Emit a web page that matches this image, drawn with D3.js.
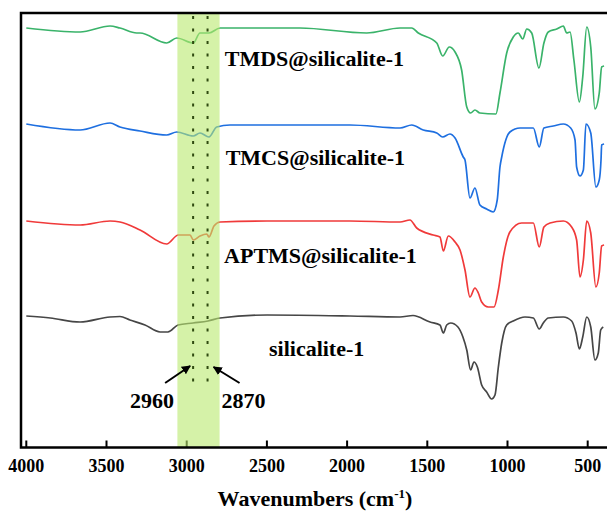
<!DOCTYPE html>
<html><head><meta charset="utf-8">
<script src="https://cdn.jsdelivr.net/npm/d3@7"></script>
<style>body{margin:0;background:#fff}svg{display:block}</style>
</head><body>
<svg id="c" width="607" height="511"></svg>
<script>
// Wavenumber (cm-1), transmittance (a.u., curves offset)
const silicalite = [[4000,130],[3850,128],[3665,124],[3478,129],[3416,129.5],[3354,126],[3260,121],[3166,114],[3117,114],[3054,121],[2960,123],[2867,125],[2792,128],[2499,131],[1982,130],[1670,129],[1589,130.5],[1483,124],[1421,121],[1400,113],[1379,121],[1354,123],[1309,119],[1278,109],[1254,96],[1230,76],[1209,84],[1188,79],[1161,61],[1130,54],[1099,47],[1078,51],[1057,79],[1036,103],[1005,121],[964,125],[891,129],[839,128],[802,117],[777,123],[746,128],[652,129],[600,125],[573,113],[552,97],[531,109],[506,129],[481,119],[455,86],[434,93],[419,116],[403,119]];
const aptms = [[4000,225],[3665,221],[3478,225],[3416,224],[3291,216],[3125,202],[3052,211],[2979,211],[2959,206],[2917,210],[2875,212],[2861,209],[2830,220],[2792,224],[2499,225],[1982,225],[1670,224],[1608,226],[1566,218],[1463,211],[1421,209],[1400,195],[1369,210],[1327,204],[1296,196],[1265,176],[1234,149],[1203,158],[1182,153],[1161,144],[1120,139],[1084,139],[1057,156],[1026,189],[985,214],[912,223],[839,223],[802,199],[773,219],[735,223],[652,225],[600,219],[569,206],[548,169],[527,186],[506,225],[481,213],[449,159],[428,173],[413,200],[398,201]];
const tmcs = [[4000,322],[3665,316],[3478,323],[3416,319],[3291,315],[3125,311],[3062,314],[2959,310],[2917,313],[2861,309],[2813,319],[2730,321],[2294,321],[1982,321],[1670,318],[1597,321],[1525,316],[1441,313],[1404,309],[1359,312],[1327,308],[1276,289],[1265,286],[1234,248],[1203,258],[1172,241],[1130,237],[1089,234],[1064,246],[1047,279],[1036,289],[985,314],[922,318],[839,318],[802,299],[773,318],[715,320],[652,322],[606,318],[579,306],[569,279],[548,270],[527,276],[511,322],[481,313],[449,259],[428,266],[417,286],[413,301],[398,302]];
const tmds = [[4000,418],[3665,414],[3478,420],[3416,418],[3312,413],[3291,413],[3125,403],[3062,408],[2959,403],[2917,413],[2861,413],[2792,418],[2294,418],[1878,413],[1670,418],[1597,418],[1556,413],[1441,403],[1404,390],[1363,399],[1327,394],[1286,376],[1254,339],[1230,333],[1203,336],[1172,333],[1072,332],[1047,353],[1005,393],[964,409],[933,413],[905,407],[880,417],[849,413],[804,378],[773,403],[746,414],[693,417],[652,420],[631,413],[610,414],[586,386],[552,344],[531,369],[506,419],[481,399],[455,337],[428,353],[413,379],[398,380]];

const seriesNames = ["silicalite-1","APTMS@silicalite-1","TMCS@silicalite-1","TMDS@silicalite-1"];
const seriesData = [silicalite, aptms, tmcs, tmds];
const seriesColors = ["#464646","#f03a3a","#1e6fe0","#3ab36a"];
const labelValues = [90, 183, 281, 380]; // label baseline position in a.u.
const labelWn = [2487, 2767, 2757, 2763];
const xTicks = [4000,3500,3000,2500,2000,1500,1000,500];
const bandRange = [3058, 2795];
const markers = [2960, 2870];

const svg = d3.select("#c");
const x = d3.scaleLinear().domain([4000,500]).range([26.3,587.7]);
const y = d3.scaleLinear().domain([0,433]).range([446,13]);
const L = 21, T = 13, R = 609, B = 447.5;
const serif = "'Liberation Serif','Times New Roman',serif";

svg.append("defs").append("clipPath").attr("id","clip")
  .append("rect").attr("x",L).attr("y",T).attr("width",R-L).attr("height",B-T);

const line = d3.line().x(d=>x(d[0])).y(d=>y(d[1])).curve(d3.curveMonotoneX);
const g = svg.append("g").attr("clip-path","url(#clip)");
seriesData.forEach((s,i)=>{
  g.append("path").datum(s).attr("d",line).attr("fill","none")
   .attr("stroke",seriesColors[i]).attr("stroke-width",1.7).attr("stroke-linejoin","round");
});

// ticks (inside, bottom)
const ax = svg.append("g");
xTicks.forEach(t=>{
  ax.append("line").attr("x1",x(t)).attr("x2",x(t)).attr("y1",B).attr("y2",B-7)
    .attr("stroke","#000").attr("stroke-width",2);
  ax.append("text").attr("x",x(t)).attr("y",472).attr("text-anchor","middle")
    .attr("font-family",serif).attr("font-weight","bold").attr("font-size",18).text(t);
});

// band
svg.append("rect").attr("x",x(bandRange[0])).attr("y",T).attr("width",x(bandRange[1])-x(bandRange[0]))
  .attr("height",B-T).attr("fill","rgb(185,233,110)").attr("opacity",0.6);

// dotted markers
markers.forEach(m=>{
  svg.append("line").attr("x1",x(m)).attr("x2",x(m)).attr("y1",T+3).attr("y2",383)
    .attr("stroke","#2f4a10").attr("stroke-width",2).attr("stroke-dasharray","3,9.5");
});

// frame
svg.append("rect").attr("x",L).attr("y",T).attr("width",R-L).attr("height",B-T)
  .attr("fill","none").attr("stroke","#000").attr("stroke-width",2.5);

// series labels
seriesNames.forEach((n,i)=>{
  svg.append("text").attr("x",x(labelWn[i])).attr("y",y(labelValues[i]))
    .attr("font-family",serif).attr("font-weight","bold").attr("font-size",22).text(n);
});

// arrows
const defs = svg.select("defs");
defs.append("marker").attr("id","ah").attr("viewBox","0 0 10 10").attr("refX",9).attr("refY",5)
  .attr("markerWidth",9).attr("markerHeight",9).attr("markerUnits","userSpaceOnUse").attr("orient","auto")
  .append("path").attr("d","M0,0L10,5L0,10z").attr("fill","#000");
svg.append("line").attr("x1",x(markers[0])-28).attr("y1",y(63)).attr("x2",x(markers[0])-3).attr("y2",y(80))
  .attr("stroke","#000").attr("stroke-width",2).attr("marker-end","url(#ah)");
svg.append("line").attr("x1",x(markers[1])+32).attr("y1",y(63)).attr("x2",x(markers[1])+6).attr("y2",y(79))
  .attr("stroke","#000").attr("stroke-width",2).attr("marker-end","url(#ah)");
svg.append("text").attr("x",x(markers[0])-41).attr("y",408).attr("text-anchor","middle")
  .attr("font-family",serif).attr("font-weight","bold").attr("font-size",22).text(markers[0]);
svg.append("text").attr("x",x(markers[1])+14).attr("y",408).attr("text-anchor","start")
  .attr("font-family",serif).attr("font-weight","bold").attr("font-size",22).text(markers[1]);

// axis title
const tt = svg.append("text").attr("x",315).attr("y",506).attr("text-anchor","middle")
  .attr("font-family",serif).attr("font-weight","bold").attr("font-size",22);
tt.append("tspan").text("Wavenumbers (cm");
tt.append("tspan").attr("dy",-8).attr("font-size",13).text("-1");
tt.append("tspan").attr("dy",8).text(")");
</script>
</body></html>
